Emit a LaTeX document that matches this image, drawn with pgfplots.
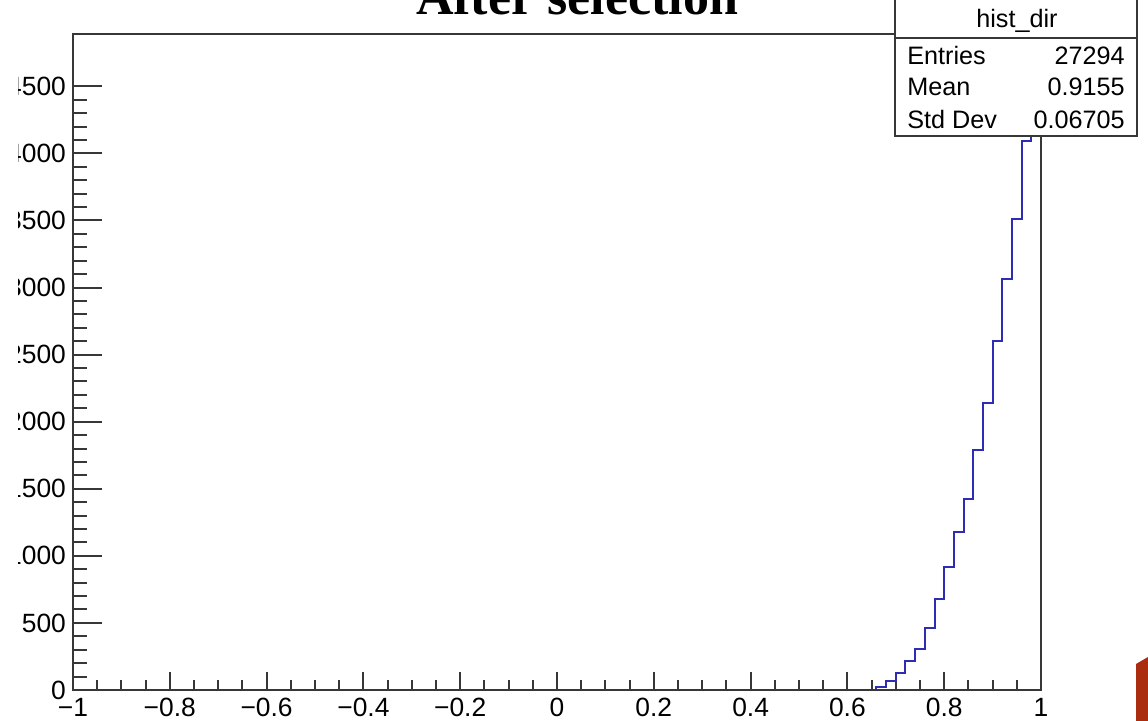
\documentclass[border=0pt]{standalone}
\usepackage{fontspec}
\setmainfont{Liberation Sans}
\newfontfamily\titlefont{Liberation Serif}
\usepackage{pgfplots}
\usepackage{pgfplotstable}
\pgfplotsset{compat=1.18}

\definecolor{histblue}{RGB}{45,45,180}
\definecolor{framegray}{RGB}{55,55,55}
\definecolor{slidered}{RGB}{170,45,15}

% bin lower edge and bin content (bin width 0.02)
\pgfplotstableread{
x y
-1.00 0
0.64 0
0.66 20
0.68 69
0.70 129
0.72 218
0.74 303
0.76 464
0.78 676
0.80 914
0.82 1180
0.84 1423
0.86 1788
0.88 2141
0.90 2603
0.92 3065
0.94 3510
0.96 4091
0.98 4660
1.00 4660
}\histdata

\begin{document}
\begin{tikzpicture}
\useasboundingbox (0pt,0pt) rectangle (574pt,360.5pt);
\pgfplotsset{rootframe/.style={
  at={(36.5pt,15.5pt)}, anchor=south west,
  scale only axis, width=484pt, height=328pt,
  xmin=-1, xmax=1, ymin=0, ymax=4890,
  axis line style={framegray, line width=1.1pt},
  tick align=inside, tick pos=left,
  every tick/.style={framegray, line width=1pt},
  ticklabel style={font=\fontsize{13.2}{15}\selectfont, text=black},
}}
% frame, histogram and x ticks
\begin{axis}[rootframe,
  xtick={-1,-0.8,-0.6,-0.4,-0.2,0,0.2,0.4,0.6,0.8,1},
  xticklabels={−1,−0.8,−0.6,−0.4,−0.2,0,0.2,0.4,0.6,0.8,1},
  minor x tick num=3,
  major tick length=9pt, minor tick length=5pt,
  ytick=\empty,
  xticklabel style={yshift=-0.5pt},
]
\addplot[histblue, line width=1pt, const plot mark left] table[x=x,y=y] {\histdata};
\end{axis}
% y ticks with their own lengths
\begin{axis}[rootframe,
  xtick=\empty,
  ytick={0,500,1000,1500,2000,2500,3000,3500,4000,4500},
  yticklabels={0,500,1000,1500,2000,2500,3000,3500,4000,4500},
  minor y tick num=4,
  major tick length=14.5pt, minor tick length=7pt,
]
\end{axis}
\begin{scope}[x=0.5pt,y=0.5pt]
% left margin of the slide
\fill[white] (0,21) rectangle (17.5,691);
% title
\node[anchor=base, font=\titlefont\bfseries\fontsize{26}{30}\selectfont] at (577,706) {After selection};
% statistics box
\fill[white] (895,726) rectangle (1137,585);
\draw[framegray, line width=1pt] (895,726) -- (895,585) -- (1137,585) -- (1137,726);
\draw[framegray, line width=1pt] (895,683) -- (1137,683);
\begin{scope}[every node/.style={font=\fontsize{12.6}{15}\selectfont, inner sep=0pt}]
\node at (1017,700) {hist\_dir};
\node[anchor=base west] at (907,656) {Entries};
\node[anchor=base west] at (907,625) {Mean};
\node[anchor=base west] at (907,592) {Std Dev};
\node[anchor=base east] at (1125,656) {27294};
\node[anchor=base east] at (1125,625) {0.9155};
\node[anchor=base east] at (1125,592) {0.06705};
\end{scope}
% corner of the slide decoration
\fill[slidered] (1136,57) -- (1148,64) -- (1148,0) -- (1136,0) -- cycle;
\draw[white, line width=1pt] (1136,59) -- (1148,66);
\end{scope}
\end{tikzpicture}
\end{document}
